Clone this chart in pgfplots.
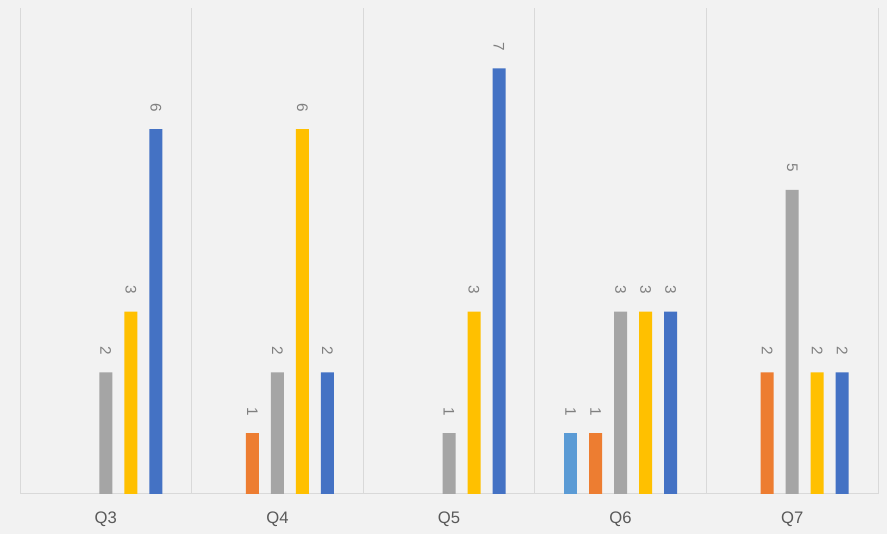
\documentclass[border=0pt]{standalone}
\usepackage{fontspec}
\setmainfont{Liberation Sans}
\usepackage{pgfplots}
\pgfplotsset{compat=1.18}
\definecolor{bg}{HTML}{F2F2F2}
\definecolor{gridc}{HTML}{D9D9D9}
\definecolor{lbl}{HTML}{808080}
\definecolor{tck}{HTML}{595959}
\definecolor{cA}{HTML}{5B9BD5}
\definecolor{cB}{HTML}{ED7D31}
\definecolor{cC}{HTML}{A5A5A5}
\definecolor{cD}{HTML}{FFC000}
\definecolor{cE}{HTML}{4472C4}
\begin{document}
\begin{tikzpicture}
\fill[bg] (0,0) rectangle (665.25pt,400.5pt);
\begin{axis}[
  at={(15pt,30pt)}, anchor=south west,
  scale only axis, width=643.5pt, height=364.8pt,
  xmin=-0.5, xmax=4.5, ymin=0, ymax=8,
  ybar=9pt, bar width=9.75pt,
  /pgf/number format/assume math mode=true,
  axis x line=bottom, axis y line=none,
  x axis line style={draw=gridc, line width=0.75pt, -},
  xtick={0,1,2,3,4}, xticklabels={Q3,Q4,Q5,Q6,Q7},
  major tick length=0pt, ytick=\empty,
  extra x ticks={-0.5,0.5,1.5,2.5,3.5,4.5},
  extra x tick labels={},
  extra x tick style={grid=major, major grid style={draw=gridc, line width=0.75pt}},
  xticklabel style={font=\fontsize{12.5}{14}\selectfont, text=tck, yshift=-10pt},
  nodes near coords,
  nodes near coords style={rotate=-90, anchor=east, inner xsep=13pt, inner ysep=0pt, font=\fontsize{11.5}{13}\selectfont, text=lbl},
  clip=false,
]
\addplot[fill=cA, draw=none] coordinates {(3,1)};
\addplot[fill=cB, draw=none] coordinates {(1,1) (3,1) (4,2)};
\addplot[fill=cC, draw=none] coordinates {(0,2) (1,2) (2,1) (3,3) (4,5)};
\addplot[fill=cD, draw=none] coordinates {(0,3) (1,6) (2,3) (3,3) (4,2)};
\addplot[fill=cE, draw=none] coordinates {(0,6) (1,2) (2,7) (3,3) (4,2)};
\end{axis}
\end{tikzpicture}
\end{document}
